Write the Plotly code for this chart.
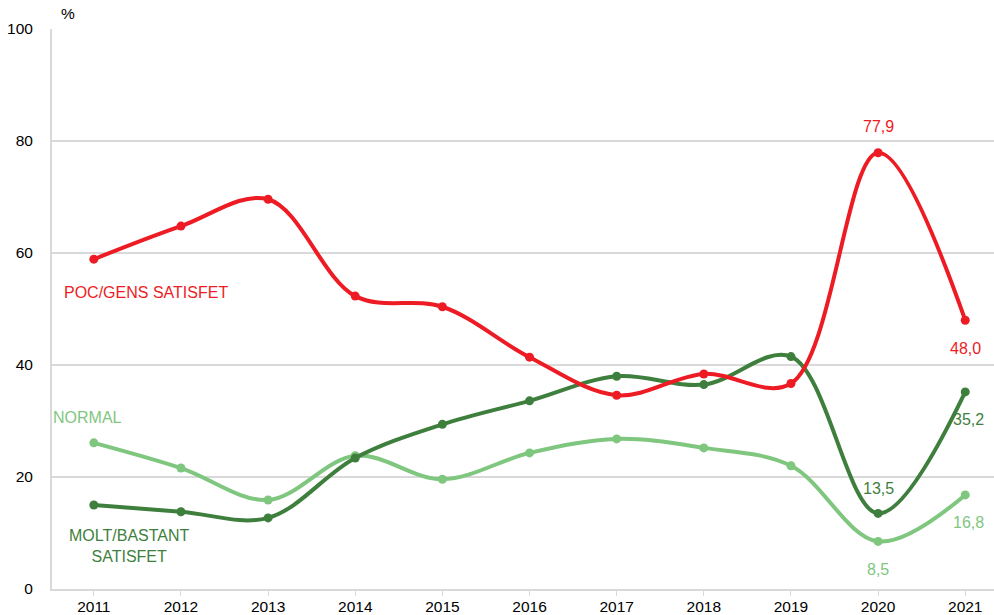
import plotly.graph_objects as go

years = [2011, 2012, 2013, 2014, 2015, 2016, 2017, 2018, 2019, 2020, 2021]
poc_gens = [58.9, 64.8, 69.6, 52.3, 50.4, 41.4, 34.6, 38.4, 36.7, 77.9, 48.0]
molt_bastant = [15.0, 13.8, 12.7, 23.4, 29.4, 33.6, 38.0, 36.5, 41.5, 13.5, 35.2]
normal = [26.1, 21.6, 15.9, 23.8, 19.6, 24.3, 26.8, 25.2, 22.0, 8.5, 16.8]
y_ticks = [0, 20, 40, 60, 80, 100]

RED = "#ED1C24"
DARK_GREEN = "#3E7F3E"
LIGHT_GREEN = "#7FC67F"
FONT = "Liberation Sans, Arial, sans-serif"

fig = go.Figure()
for vals, col in [(normal, LIGHT_GREEN), (molt_bastant, DARK_GREEN), (poc_gens, RED)]:
    fig.add_trace(go.Scatter(
        x=years, y=vals, mode="lines+markers",
        line=dict(color=col, width=4, shape="spline", smoothing=1.0),
        marker=dict(color=col, size=9),
        showlegend=False, hoverinfo="skip",
    ))

def fmt(v):
    return f"{v:.1f}".replace(".", ",")

# value labels for the last two years (pixel offsets from the point)
labels = [
    (2020, poc_gens[9], RED, 0, -26),
    (2021, poc_gens[10], RED, 0, 28),
    (2021, molt_bastant[10], DARK_GREEN, 3, 28),
    (2020, molt_bastant[9], DARK_GREEN, 0, -25),
    (2021, normal[10], LIGHT_GREEN, 3, 28),
    (2020, normal[9], LIGHT_GREEN, 0, 28),
]
for x, v, col, dx, dy in labels:
    fig.add_annotation(x=x, y=v, text=fmt(v), showarrow=False,
                       xshift=dx, yshift=-dy,
                       font=dict(family=FONT, size=16, color=col))

# series names
fig.add_annotation(x=2011.60, y=53.0, text="POC/GENS SATISFET", showarrow=False,
                   font=dict(family=FONT, size=16, color=RED))
fig.add_annotation(x=2010.925, y=30.7, text="NORMAL", showarrow=False,
                   font=dict(family=FONT, size=16, color=LIGHT_GREEN))
fig.add_annotation(x=2011.41, y=7.7, text="MOLT/BASTANT<br>SATISFET", showarrow=False,
                   font=dict(family=FONT, size=16, color=DARK_GREEN))

fig.add_annotation(xref="paper", yref="paper", x=0.017, y=1.0, yshift=16,
                   xanchor="center", yanchor="middle",
                   text="%", showarrow=False,
                   font=dict(family=FONT, size=15.5, color="#000000"))

fig.update_layout(
    width=994, height=615,
    margin=dict(l=52, r=0, t=29, b=26),
    plot_bgcolor="white", paper_bgcolor="white",
    font=dict(family=FONT, size=15.5, color="#000000"),
)
fig.update_xaxes(
    range=[2010.52, 2021.33], tickmode="array", tickvals=years,
    ticktext=[str(y) for y in years],
    showgrid=False, showline=True, linecolor="#D9D9D9", linewidth=2,
    ticks="outside", ticklen=5, tickcolor="#D9D9D9", automargin=False,
    ticklabelstandoff=-3, zeroline=False,
)
fig.update_yaxes(
    range=[0, 100], tickmode="array", tickvals=y_ticks,
    showgrid=True, gridcolor="#D9D9D9", gridwidth=2,
    showline=True, linecolor="#D9D9D9", linewidth=2,
    ticks="", ticklabelstandoff=14, automargin=False, zeroline=False,
)

fig.write_html("out.html")
